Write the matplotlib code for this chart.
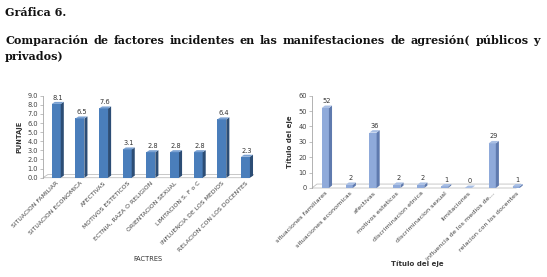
import numpy as np
import matplotlib.pyplot as plt
from matplotlib.patches import Polygon

# left chart data
left_labels = ["SITUACION FAMILIAR", "SITUACION ECONOMICA", "AFECTIVAS",
               "MOTIVOS ESTETICOS", "ECTNIA, RAZA O RELIGION", "ORIENTACION SEXUAL",
               "LIMITACION S. F o C", "INFLUENCIA DE LOS MEDIOS", "RELACION CON LOS DOCENTES"]
left_values = [8.1, 6.5, 7.6, 3.1, 2.8, 2.8, 2.8, 6.4, 2.3]

# right chart data
right_labels = ["situaciones familiares", "situaciones economicas", "afectivas",
                "motivos esteticos", "discriminacion etnica", "discriminacion sexual",
                "limitaciones", "influencia de los medios de\u2026", "relacion con los docentes"]
right_values = [52, 2, 36, 2, 2, 1, 0, 29, 1]

W, H = 547, 277
fig = plt.figure(figsize=(W / 100, H / 100), dpi=100)
fig.patch.set_facecolor("white")


def fx(px):
    return px / W


def fy(py):
    return 1 - py / H


def bars3d(ax, vals, w, dx, dy, front, side, top, xmax, fmt):
    x0 = ax.get_xlim()[0]
    # floor
    ax.add_patch(Polygon([(x0, 0), (xmax, 0), (xmax + dx * 1.6, dy * 1.6), (x0 + dx * 1.6, dy * 1.6)],
                         closed=True, facecolor="white", edgecolor="#BFBFBF", lw=0.6, clip_on=False, zorder=1))
    for i, v in enumerate(vals):
        l, r = i - w / 2, i + w / 2
        ax.add_patch(Polygon([(l, 0), (r, 0), (r, v), (l, v)], closed=True,
                             facecolor=front, edgecolor="none", clip_on=False, zorder=3))
        ax.add_patch(Polygon([(r, 0), (r + dx, dy), (r + dx, v + dy), (r, v)], closed=True,
                             facecolor=side, edgecolor="none", clip_on=False, zorder=3))
        ax.add_patch(Polygon([(l, v), (r, v), (r + dx, v + dy), (l + dx, v + dy)], closed=True,
                             facecolor=top, edgecolor="none", clip_on=False, zorder=3))
        ax.text(i + dx / 2, v + dy * 1.6, fmt(v), ha="center", va="bottom", fontsize=4.8,
                color="#333333", zorder=4)


def style(ax):
    for s in ["top", "right", "bottom"]:
        ax.spines[s].set_visible(False)
    ax.spines["left"].set_color("#A6A6A6")
    ax.spines["left"].set_linewidth(0.6)
    ax.tick_params(axis="y", length=2, width=0.5, color="#A6A6A6", labelsize=4.8,
                   labelcolor="#404040", pad=1.5)
    ax.tick_params(axis="x", length=0, labelsize=4.6, labelcolor="#404040", pad=2)
    ax.set_facecolor("none")


# left chart
axl = fig.add_axes([fx(43), fy(177.7), fx(262 - 43), (177.7 - 95.7) / H])
axl.set_xlim(-0.56, 8.7)
axl.set_ylim(0, 9)
axl.set_yticks(np.arange(0, 9.1, 1.0))
axl.set_yticklabels([f"{t:.1f}" for t in np.arange(0, 9.1, 1.0)])
style(axl)
bars3d(axl, left_values, 0.38, 0.13, 0.22, "#4A7EBB", "#2C4D75", "#7AA1D2", 8.15, lambda v: f"{v:.1f}")
axl.set_xticks(range(len(left_labels)))
axl.set_xticklabels(left_labels, rotation=45, ha="right", rotation_mode="anchor", fontsize=4.4)
axl.set_ylabel("PUNTAJE", fontsize=4.8, fontweight="bold", color="#333333", labelpad=4)
fig.text(fx(148), fy(259), "FACTRES", fontsize=4.8, color="#333333", ha="center", va="center")

# right chart
axr = fig.add_axes([fx(312), fy(188), fx(528 - 312), (188 - 95.7) / H])
axr.set_xlim(-0.56, 8.5)
axr.set_ylim(0, 60)
axr.set_yticks(range(0, 61, 10))
style(axr)
bars3d(axr, right_values, 0.3, 0.13, 1.6, "#8FAADA", "#5F7AAE", "#A9BFE4", 8.0, lambda v: f"{v:d}")
axr.set_xticks(range(len(right_labels)))
axr.set_xticklabels(right_labels, rotation=45, ha="right", rotation_mode="anchor", fontsize=4.6)
axr.set_ylabel("Título del eje", fontsize=5, fontweight="bold", color="#333333", labelpad=4)
fig.text(fx(417), fy(264), "Título del eje", fontsize=5, fontweight="bold", color="#333333",
         ha="center", va="center")

# titles
fig.text(fx(5), fy(13), "Gráfica 6.", fontsize=8, fontweight="bold", family="DejaVu Serif",
         color="#111111", va="center", ha="left")

line1 = "Comparación de factores incidentes en las manifestaciones de agresión( públicos y".split(" ")
renderer = fig.canvas.get_renderer()
tmp = [fig.text(0, 0, w_, fontsize=8, fontweight="bold", family="DejaVu Serif") for w_ in line1]
widths = [t.get_window_extent(renderer).width for t in tmp]
for t in tmp:
    t.remove()
gap = (540 - 5 - sum(widths)) / (len(line1) - 1)
xpos = 5.0
for w_, wd in zip(line1, widths):
    fig.text(fx(xpos), fy(40), w_, fontsize=8, fontweight="bold", family="DejaVu Serif",
             color="#111111", va="center", ha="left")
    xpos += wd + gap
fig.text(fx(5), fy(56), "privados)", fontsize=8, fontweight="bold", family="DejaVu Serif",
         color="#111111", va="center", ha="left")

fig.savefig("out.png", dpi=100)
